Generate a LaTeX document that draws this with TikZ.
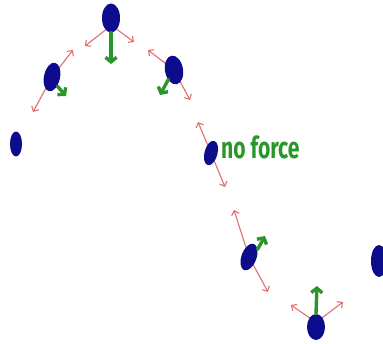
\documentclass[tikz,border=0pt]{standalone}
\usepackage{fontspec}
\setmainfont{Fira Sans}
\usetikzlibrary{arrows.meta,shapes.geometric}
\definecolor{dotblue}{RGB}{12,12,140}
\definecolor{forcered}{RGB}{225,110,110}
\definecolor{forcegreen}{RGB}{40,150,40}
\tikzset{
  ball/.style={ellipse, fill=dotblue, inner sep=0pt},
  redforce/.style={draw=forcered, line width=1.1pt, -{Straight Barb[length=4pt,width=8pt]}},
  greenforce/.style={draw=forcegreen, line width=3.4pt, line cap=round, -{Straight Barb[length=4.5pt,width=11pt]}},
}
\begin{document}
\begin{tikzpicture}[x=1pt,y=-1pt]
\useasboundingbox (0,0) rectangle (383,343);
% centres
\coordinate (c2) at (52,77);
\coordinate (c3) at (111,18);
\coordinate (c4) at (174,70);
\coordinate (c5) at (211,153);
\coordinate (c6) at (249,257);
\coordinate (c7) at (316,327);
% red free ends
\coordinate (r2a) at (73,50);
\coordinate (r2b) at (33,112);
\coordinate (r3a) at (85,46);
\coordinate (r3b) at (134,42);
\coordinate (r4a) at (148,50);
\coordinate (r4b) at (190,100);
\coordinate (r5a) at (198,122);
\coordinate (r5b) at (225,187);
\coordinate (r6a) at (234,210);
\coordinate (r6b) at (268,292);
\coordinate (r7a) at (291,305);
\coordinate (r7b) at (343,302);
% red forces
\draw[redforce] (c2) -- (r2a);
\draw[redforce] (c2) -- (r2b);
\draw[redforce] ([shift={(-3,10)}]c3) -- (r3a);
\draw[redforce] ([shift={(4,10)}]c3) -- (r3b);
\draw[redforce] (c4) -- (r4a);
\draw[redforce] (c4) -- (r4b);
\draw[redforce] (c5) -- (r5a);
\draw[redforce] (c5) -- (r5b);
\draw[redforce] (c6) -- (r6a);
\draw[redforce] (c6) -- (r6b);
\draw[redforce] ([shift={(-2,-6)}]c7) -- (r7a);
\draw[redforce] ([shift={(2,-6)}]c7) -- (r7b);
% balls
\node[ball, minimum width=12pt, minimum height=25pt] (b1) at (16,144) {};
\node[ball, minimum width=16pt, minimum height=29pt, rotate=-12] (b2) at (c2) {};
\node[ball, minimum width=18pt, minimum height=29pt] (b3) at (c3) {};
\node[ball, minimum width=18pt, minimum height=29pt, rotate=10] (b4) at (c4) {};
\node[ball, minimum width=13pt, minimum height=25pt, rotate=-15] (b5) at (c5) {};
\node[ball, minimum width=15pt, minimum height=28pt, rotate=-20] (b6) at (c6) {};
\node[ball, minimum width=18pt, minimum height=26pt] (b7) at (c7) {};
\node[ball, minimum width=16pt, minimum height=32pt] (b8) at (379,261) {};
% green forces
\coordinate (g2) at (66,96);
\coordinate (g3) at (111,64);
\coordinate (g4) at (160,95);
\coordinate (g6) at (265,236);
\coordinate (g7) at (317,286);
\draw[greenforce] ([shift={(2,-2)}]b2.south east) -- (g2);
\draw[greenforce] (b3.south) -- (g3);
\draw[greenforce] ([shift={(-1,-2)}]b4.south west) -- (g4);
\draw[greenforce] (b6.north east) -- (g6);
\draw[greenforce] (b7.north) -- (g7);
% label
\node[text=forcegreen, font=\fontsize{24}{24}\selectfont\bfseries, anchor=base west, inner sep=0pt, xscale=0.88, yscale=1.25] (lbl) at (221,158) {no force};
\end{tikzpicture}
\end{document}
